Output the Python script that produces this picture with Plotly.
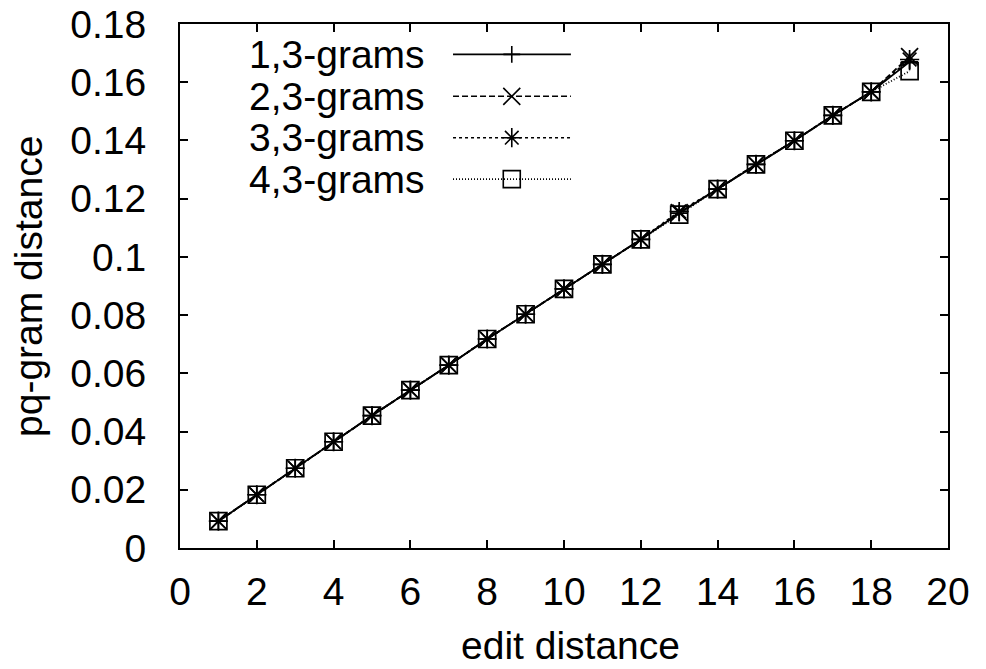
import plotly.graph_objects as go

# ---- data ----
edit_distance = list(range(1, 20))
grams_1_3 = [0.0092, 0.0183, 0.0274, 0.0365, 0.0455, 0.0542, 0.0628, 0.0718, 0.0803, 0.0890,
             0.0974, 0.1060, 0.1150, 0.1233, 0.1318, 0.1399, 0.1486, 0.1567, 0.1670]
grams_2_3 = [0.0092, 0.0183, 0.0274, 0.0365, 0.0455, 0.0542, 0.0628, 0.0718, 0.0803, 0.0890,
             0.0974, 0.1060, 0.1152, 0.1233, 0.1318, 0.1399, 0.1486, 0.1567, 0.1688]
grams_3_3 = [0.0092, 0.0183, 0.0274, 0.0365, 0.0455, 0.0542, 0.0628, 0.0718, 0.0803, 0.0890,
             0.0974, 0.1060, 0.1156, 0.1233, 0.1318, 0.1399, 0.1486, 0.1567, 0.1678]
grams_4_3 = [0.0092, 0.0183, 0.0274, 0.0365, 0.0455, 0.0542, 0.0628, 0.0718, 0.0803, 0.0890,
             0.0974, 0.1060, 0.1145, 0.1233, 0.1318, 0.1399, 0.1486, 0.1567, 0.1638]
series_names = ["1,3-grams", "2,3-grams", "3,3-grams", "4,3-grams"]
x_ticks = list(range(0, 21, 2))
y_ticks = [0, 0.02, 0.04, 0.06, 0.08, 0.1, 0.12, 0.14, 0.16, 0.18]
y_tick_text = ["0", "0.02", "0.04", "0.06", "0.08", "0.1", "0.12", "0.14", "0.16", "0.18"]

# ---- styles ----
FONT = "Liberation Sans, Arial, sans-serif"
FS = 39
styles = [
    dict(dash="solid", symbol="cross-thin", size=12),
    dict(dash="6px,3px", symbol="x-thin", size=17),
    dict(dash="3px,3px", symbol="asterisk", size=16),
    dict(dash="1px,2px", symbol="square-open", size=17),
]
all_series = [grams_1_3, grams_2_3, grams_3_3, grams_4_3]

fig = go.Figure()
for name, ys, st in zip(series_names, all_series, styles):
    fig.add_trace(go.Scatter(
        x=edit_distance, y=ys, name=name, mode="lines+markers",
        line=dict(color="black", width=1.8, dash=st["dash"]),
        marker=dict(symbol=st["symbol"], size=st["size"], color="black",
                    line=dict(color="black", width=1.7)),
        showlegend=False,
    ))

# ---- gnuplot-style key (on overlay axes spanning the plot area) ----
key_rows = [0.942, 0.862, 0.783, 0.704]
key_x0, key_xm, key_x1 = 0.3555, 0.432, 0.509
key_text_x = 0.322
for name, st, ky in zip(series_names, styles, key_rows):
    fig.add_trace(go.Scatter(
        x=[key_x0, key_x1], y=[ky, ky], mode="lines", xaxis="x2", yaxis="y2",
        line=dict(color="black", width=1.6, dash=st["dash"]), showlegend=False,
        hoverinfo="skip"))
    fig.add_trace(go.Scatter(
        x=[key_xm], y=[ky], mode="markers", xaxis="x2", yaxis="y2",
        marker=dict(symbol=st["symbol"], size=st["size"], color="black",
                    line=dict(color="black", width=1.6)),
        showlegend=False, hoverinfo="skip"))
    fig.add_annotation(text=name, xref="x2", yref="y2", x=key_text_x, y=ky,
                       xanchor="right", yanchor="middle", showarrow=False,
                       font=dict(family=FONT, size=FS, color="black"))

axis_common = dict(
    showgrid=False, zeroline=False, showline=True, linecolor="black", linewidth=2,
    mirror="allticks", ticks="inside", ticklen=8, tickwidth=1.5, tickcolor="black",
    tickfont=dict(family=FONT, size=FS, color="black"), automargin=False,
)
fig.update_layout(
    width=986, height=669, autosize=False,
    margin=dict(l=180, r=38, t=24, b=121, autoexpand=False),
    paper_bgcolor="white", plot_bgcolor="white",
    xaxis=dict(range=[0, 20], tickvals=x_ticks, ticklabelstandoff=8, **axis_common),
    yaxis=dict(range=[0, 0.18], tickvals=y_ticks, ticktext=y_tick_text,
               ticklabelstandoff=24, **axis_common),
    xaxis2=dict(overlaying="x", range=[0, 1], visible=False),
    yaxis2=dict(overlaying="y", range=[0, 1], visible=False),
    showlegend=False,
)
fig.add_annotation(text="edit distance", xref="paper", yref="paper", x=0.509, y=-0.186,
                   xanchor="center", yanchor="middle", showarrow=False,
                   font=dict(family=FONT, size=FS, color="black"))
fig.add_annotation(text="pq-gram distance", xref="paper", yref="paper", x=-0.198, y=0.5,
                   xanchor="center", yanchor="middle", textangle=-90, showarrow=False,
                   font=dict(family=FONT, size=FS, color="black"))

fig.write_html("out.html")
